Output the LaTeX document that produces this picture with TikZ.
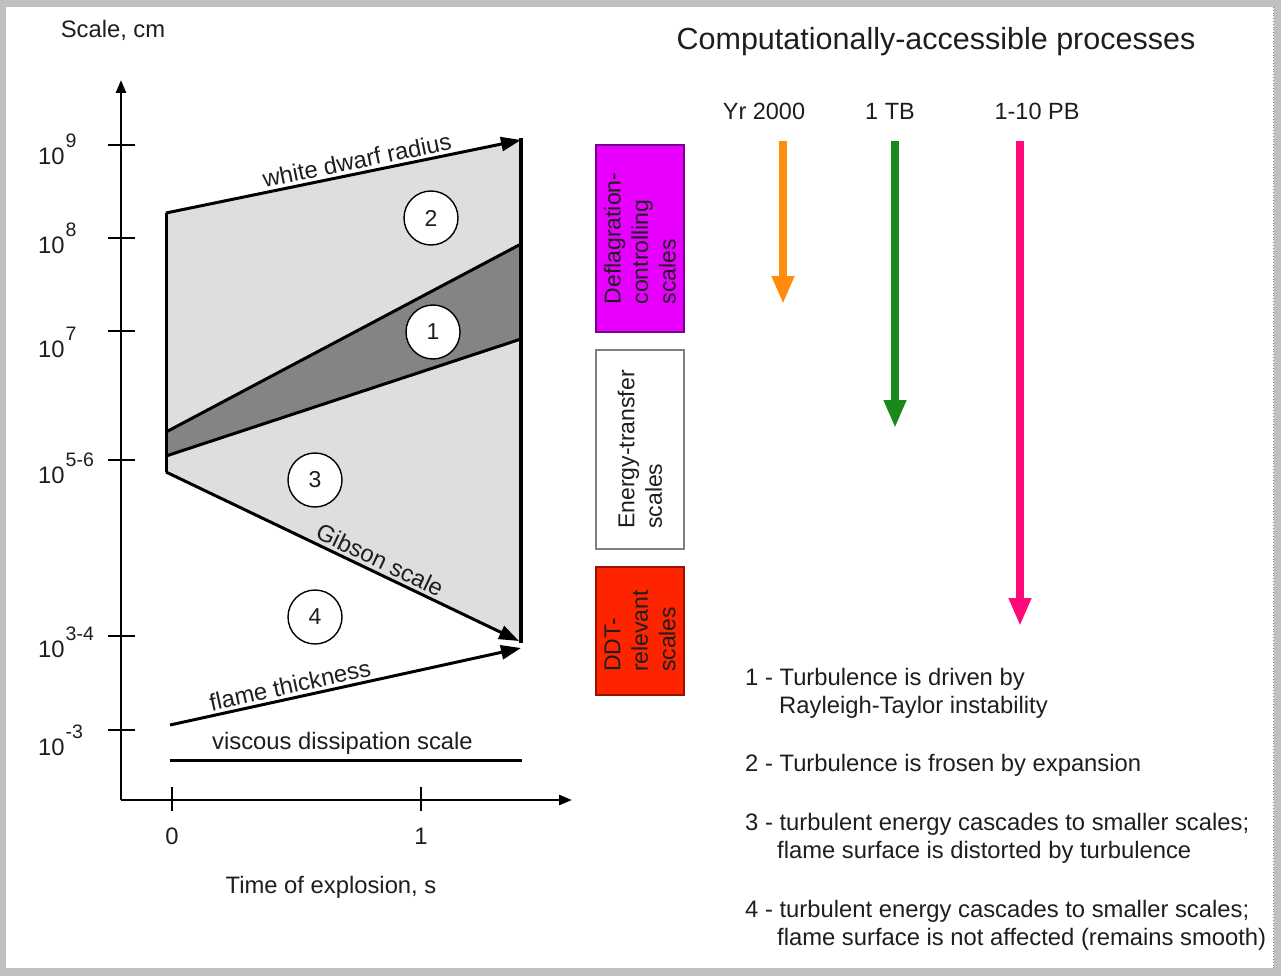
\documentclass[tikz,border=0pt]{standalone}
\usepackage{fontspec}
\setmainfont{Liberation Sans}
\usetikzlibrary{arrows.meta}
\definecolor{framegray}{RGB}{192,192,192}
\definecolor{txt}{RGB}{30,30,30}
\definecolor{lightfill}{RGB}{222,222,222}
\definecolor{darkfill}{RGB}{132,132,132}
\definecolor{magbox}{RGB}{232,0,255}
\definecolor{magborder}{RGB}{120,0,140}
\definecolor{redbox}{RGB}{255,36,0}
\definecolor{redborder}{RGB}{150,20,0}
\definecolor{arrorange}{RGB}{255,140,12}
\definecolor{arrgreen}{RGB}{26,136,26}
\definecolor{arrpink}{RGB}{255,10,120}
\newcommand\tsup[1]{\kern1pt\raisebox{17pt}{\fontsize{19.5}{19.5}\selectfont #1}}
\begin{document}
\begin{tikzpicture}[x=1pt,y=-1pt,
  lbl/.style={font=\fontsize{23.8}{28}\selectfont, text=txt, inner sep=2pt},
  bigarrow/.style={-{Triangle[length=20pt,width=14pt]}, line width=3pt},
  axisline/.style={line width=2.6pt, -{Triangle[length=13pt,width=10pt]}},
  tickline/.style={line width=2.2pt},
  circ/.style={circle, draw=black, fill=white, line width=1.4pt, minimum size=54pt, inner sep=0pt, font=\fontsize{23}{23}\selectfont, text=txt},
  scalebox/.style={rotate=90, minimum width=#1, minimum height=88pt, line width=1.5pt, align=left, font=\fontsize{23}{27.5}\selectfont, text=txt, inner sep=0pt},
  colarrow/.style={line width=8pt, draw=#1, -{Triangle[length=28pt,width=21pt]}}
]
% frame
\fill[framegray] (0,0) rectangle (1281,976);
\fill[white] (6,7) rectangle (1274,968);
\draw[gray, dotted, line width=0.8pt] (1273,7) -- (1273,968);
\useasboundingbox (0,0) rectangle (1281,976);

% key points
\coordinate (wdL) at (166,213);
\coordinate (wdR) at (521,140);
\coordinate (gbL) at (166,472);
\coordinate (gbR) at (521,643);
\coordinate (rtTop) at (521,138);
\coordinate (gbTip) at (519,641);
\coordinate (b1L) at (166,432);
\coordinate (b1R) at (521,244);
\coordinate (b2L) at (166,456);
\coordinate (b2R) at (521,339);
\coordinate (flL) at (170,725);
\coordinate (flR) at (521,648);
\coordinate (vsL) at (170,760);
\coordinate (vsR) at (522,760);

% fills
\fill[lightfill] (wdL) -- (wdR) -- (gbR) -- (gbL) -- cycle;
\fill[darkfill] (b1L) -- (b1R) -- (b2R) -- (b2L) -- cycle;

% lines
\draw[line width=3pt] (wdL) -- (gbL);
\draw[line width=4pt] (rtTop) -- (gbR);
\draw[line width=3pt] (b1L) -- (b1R);
\draw[line width=3pt] (b2L) -- (b2R);
\draw[bigarrow] (wdL) -- (wdR) node[pos=0.545, sloped, above=1pt, lbl] (twd) {white dwarf radius};
\draw[bigarrow] (gbL) -- (gbTip) node[pos=0.59, sloped, above=1pt, lbl] (tgb) {Gibson scale};
\draw[bigarrow] (flL) -- (flR) node[pos=0.35, sloped, above=1pt, lbl] (tfl) {flame thickness};
\draw[line width=3pt] (vsL) -- (vsR) node[pos=0.49, above=2pt, lbl] (tvs) {viscous dissipation scale};

% circles
\node[circ] (c2) at (431,218) {2};
\node[circ] (c1) at (433,332) {1};
\node[circ] (c3) at (315,480) {3};
\node[circ] (c4) at (315,617) {4};

% axes
\coordinate (O) at (121,800);
\coordinate (ytop) at (121,80);
\coordinate (xend) at (572,800);
\draw[axisline] (O) -- (ytop);
\draw[axisline] (O) -- (xend);

% y ticks
\foreach \y/\n in {145/t9,238/t8,331/t7,460/t56,636/t34,730/tm3}{
  \coordinate (\n a) at (108,\y);
  \coordinate (\n b) at (135,\y);
  \draw[tickline] (\n a) -- (\n b);
}
% x ticks
\coordinate (x0a) at (172,787); \coordinate (x0b) at (172,811);
\coordinate (x1a) at (421,787); \coordinate (x1b) at (421,811);
\draw[tickline] (x0a) -- (x0b);
\draw[tickline] (x1a) -- (x1b);

% y labels
\node[lbl, anchor=base west, inner sep=0pt] (l9) at (38,165) {10\tsup{9}};
\node[lbl, anchor=base west, inner sep=0pt] (l8) at (38,253) {10\tsup{8}};
\node[lbl, anchor=base west, inner sep=0pt] (l7) at (38,357) {10\tsup{7}};
\node[lbl, anchor=base west, inner sep=0pt] (l56) at (38,483) {10\tsup{5-6}};
\node[lbl, anchor=base west, inner sep=0pt] (l34) at (38,657) {10\tsup{3-4}};
\node[lbl, anchor=base west, inner sep=0pt] (lm3) at (38,755) {10\tsup{-3}};

\node[lbl] (ylab) at (113,30) {Scale, cm};
\node[lbl] (x0) at (172,836) {0};
\node[lbl] (x1) at (421,836) {1};
\node[lbl] (xlab) at (331,887) {Time of explosion, s};

% scale boxes
\node[scalebox=187pt, draw=magborder, fill=magbox] (bdef) at (640,238.5) {Deflagration-\\controlling\\scales};
\node[scalebox=199pt, draw=gray, fill=white] (ben) at (640,449.5) {Energy-transfer\\scales};
\node[scalebox=128pt, draw=redborder, fill=redbox] (bddt) at (640,631) {DDT-\\relevant\\scales};

% right side
\node[font=\fontsize{30.5}{30.5}\selectfont, text=txt] (title) at (936,42) {Computationally-accessible processes};
\node[lbl, font=\fontsize{23.5}{23.5}\selectfont] (lyr) at (764,111) {Yr 2000};
\node[lbl, font=\fontsize{23.5}{23.5}\selectfont] (ltb) at (890,111) {1 TB};
\node[lbl, font=\fontsize{23.5}{23.5}\selectfont] (lpb) at (1037,111) {1-10 PB};

\coordinate (oa) at (783,141); \coordinate (ob) at (783,304);
\coordinate (ga) at (895,141); \coordinate (gb) at (895,428);
\coordinate (pa) at (1020,141); \coordinate (pb) at (1020,626);
\draw[colarrow=arrorange] (oa) -- (ob);
\draw[colarrow=arrgreen] (ga) -- (gb);
\draw[colarrow=arrpink] (pa) -- (pb);

% legend
\node[lbl, anchor=base west, inner sep=0pt] (g1a) at (745,685) {1 - Turbulence is driven by};
\node[lbl, anchor=base west, inner sep=0pt] (g1b) at (779,713) {Rayleigh-Taylor instability};
\node[lbl, anchor=base west, inner sep=0pt] (g2) at (745,771) {2 - Turbulence is frosen by expansion};
\node[lbl, anchor=base west, inner sep=0pt] (g3a) at (745,830) {3 - turbulent energy cascades to smaller scales;};
\node[lbl, anchor=base west, inner sep=0pt] (g3b) at (777,858) {flame surface is distorted by turbulence};
\node[lbl, anchor=base west, inner sep=0pt] (g4a) at (745,917) {4 - turbulent energy cascades to smaller scales;};
\node[lbl, anchor=base west, inner sep=0pt] (g4b) at (777,945) {flame surface is not affected (remains smooth)};
\end{tikzpicture}
\end{document}
